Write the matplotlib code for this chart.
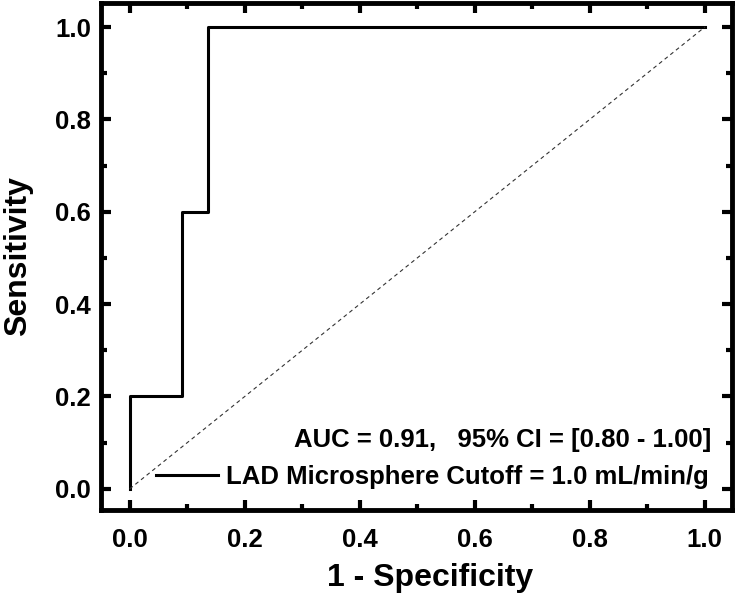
import matplotlib
matplotlib.use("Agg")
import matplotlib.pyplot as plt
from matplotlib.ticker import MultipleLocator

# ROC curve step points
fpr = [0.0, 0.0, 0.0909, 0.0909, 0.1364, 0.1364, 1.0]
tpr = [0.0, 0.2, 0.2, 0.6, 0.6, 1.0, 1.0]
diag = [0.0, 1.0]
auc_text = "AUC = 0.91,   95% CI = [0.80 - 1.00]"
legend_label = "LAD Microsphere Cutoff = 1.0 mL/min/g"

plt.rcParams["font.family"] = ["Liberation Sans", "DejaVu Sans"]
plt.rcParams["font.weight"] = "bold"

fig = plt.figure(figsize=(7.37, 5.98), dpi=100)
ax = fig.add_axes([0.137, 0.147, 0.856, 0.848])

ax.plot(fpr, tpr, color="black", linewidth=2.2, label=legend_label)
ax.plot(diag, diag, color="#333333", linewidth=0.8, linestyle=(0, (3.5, 3)))

ax.set_xlim(-0.05, 1.047)
ax.set_ylim(-0.046, 1.052)

ax.xaxis.set_major_locator(MultipleLocator(0.2))
ax.xaxis.set_minor_locator(MultipleLocator(0.1))
ax.yaxis.set_major_locator(MultipleLocator(0.2))
ax.yaxis.set_minor_locator(MultipleLocator(0.1))
ax.xaxis.set_major_formatter(lambda v, p: f"{v:.1f}")
ax.yaxis.set_major_formatter(lambda v, p: f"{v:.1f}")

for s in ax.spines.values():
    s.set_linewidth(3.5)
ax.tick_params(which="both", direction="in", top=True, right=True, width=3, labelsize=18.5)
ax.tick_params(which="major", length=7)
ax.tick_params(which="minor", length=4.5)
ax.tick_params(axis="x", which="major", pad=13)
ax.tick_params(axis="y", which="major", pad=7)

ax.set_xlabel("1 - Specificity", fontsize=23, fontweight="bold", labelpad=8)
ax.set_ylabel("Sensitivity", fontsize=23, fontweight="bold", labelpad=16)
ax.xaxis.label.set_x(0.521)

leg = ax.legend(loc="center right", frameon=False, fontsize=18.5, handlelength=2.4,
                handletextpad=0.3, bbox_to_anchor=(0.963, 0.065),
                borderaxespad=0, borderpad=0)
ax.text(0.967, 0.138, auc_text, transform=ax.transAxes, ha="right", va="center",
        fontsize=18.5, fontweight="bold")

fig.savefig("out.png", dpi=100)
